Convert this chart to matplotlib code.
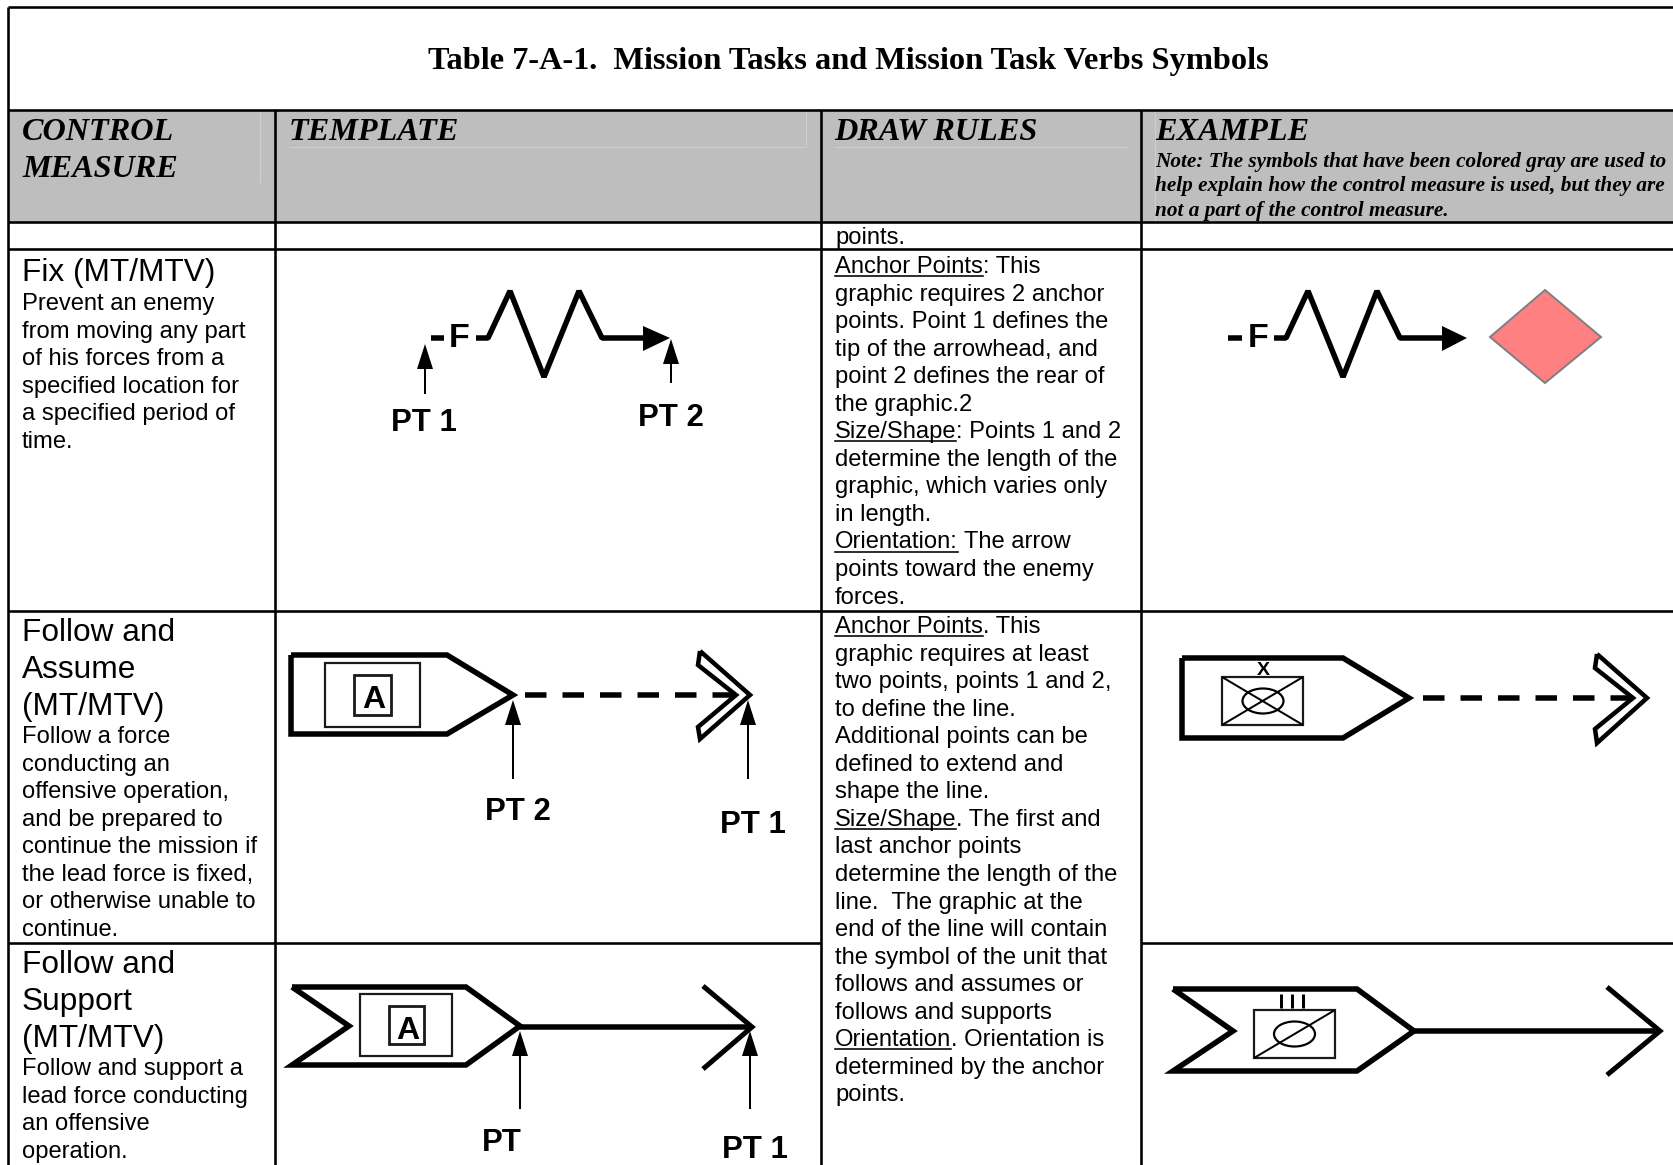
import matplotlib
matplotlib.use("Agg")
import matplotlib.pyplot as plt
from matplotlib.patches import Polygon, Ellipse, Rectangle

plt.rcParams['lines.scale_dashes'] = False

W, H = 1674, 1165

title = "Table 7-A-1.  Mission Tasks and Mission Task Verbs Symbols"
headers = ["CONTROL\nMEASURE", "TEMPLATE", "DRAW RULES", "EXAMPLE"]
note_lines = ["Note: The symbols that have been colored gray are used to",
              "help explain how the control measure is used, but they are",
              "not a part of the control measure."]

fix_head = ["Fix (MT/MTV)"]
fix_body = ["Prevent an enemy", "from moving any part", "of his forces from a",
            "specified location for", "a specified period of", "time."]
assume_head = ["Follow and", "Assume", "(MT/MTV)"]
assume_body = ["Follow a force", "conducting an", "offensive operation,",
               "and be prepared to", "continue the mission if",
               "the lead force is fixed,", "or otherwise unable to", "continue."]
support_head = ["Follow and", "Support", "(MT/MTV)"]
support_body = ["Follow and support a", "lead force conducting", "an offensive", "operation."]

# (underlined part, rest of the line)
fix_rules = [("Anchor Points", ": This"), ("", "graphic requires 2 anchor"),
             ("", "points. Point 1 defines the"), ("", "tip of the arrowhead, and"),
             ("", "point 2 defines the rear of"), ("", "the graphic.2"),
             ("Size/Shape", ": Points 1 and 2"), ("", "determine the length of the"),
             ("", "graphic, which varies only"), ("", "in length."),
             ("Orientation:", " The arrow"), ("", "points toward the enemy"), ("", "forces.")]
follow_rules = [("Anchor Points", ". This"), ("", "graphic requires at least"),
                ("", "two points, points 1 and 2,"), ("", "to define the line."),
                ("", "Additional points can be"), ("", "defined to extend and"),
                ("", "shape the line."), ("Size/Shape", ". The first and"),
                ("", "last anchor points"), ("", "determine the length of the"),
                ("", "line.  The graphic at the"), ("", "end of the line will contain"),
                ("", "the symbol of the unit that"), ("", "follows and assumes or"),
                ("", "follows and supports"), ("Orientation", ". Orientation is"),
                ("", "determined by the anchor"), ("", "points.")]

# symbol outlines in pixels
fix_line_t = [(476, 338), (488, 338), (510, 291), (544, 377), (579, 291), (602, 338), (646, 338)]
fix_head_t = [(643, 326), (670, 338), (643, 351)]
fix_line_e = [(1274, 338), (1286, 338), (1308, 291), (1343, 377), (1377, 291), (1400, 338), (1444, 338)]
fix_head_e = [(1442, 326), (1467, 338), (1442, 351)]
diamond = [(1490, 337), (1545, 290), (1601, 337), (1545, 383)]

assume_t = [(291, 655), (447, 655), (513, 695), (447, 734), (291, 734)]
assume_e = [(1182, 658), (1343, 658), (1409, 698), (1343, 738), (1182, 738)]
support_t = [(292, 987), (466, 987), (520, 1026), (466, 1065), (292, 1065), (349, 1026)]
support_e = [(1173, 989), (1357, 989), (1414, 1031), (1357, 1071), (1173, 1071), (1233, 1031)]

chevron_t_out = [(700, 651), (750, 695), (700, 739)]
chevron_t_in = [(698, 665), (736, 695), (698, 727)]
chevron_e_out = [(1597, 654), (1647, 698), (1597, 743)]
chevron_e_in = [(1595, 668), (1633, 698), (1595, 729)]

arrow_t = [(703, 986), (752, 1027), (703, 1069)]
arrow_e = [(1607, 987), (1660, 1031), (1607, 1075)]

# x, tail y, tip y for the small pointer arrows
pointers = [(425, 393, 344), (671, 382, 339), (513, 778, 700), (748, 778, 700),
            (520, 1108, 1031), (750, 1108, 1031)]
pt_labels = [("PT 1", 424, 420), ("PT 2", 671, 415), ("PT 2", 518, 809), ("PT 1", 753, 822),
             ("PT", 502, 1140), ("PT 1", 755, 1147)]


def px(v):
    return v * 0.72


fig = plt.figure(figsize=(W / 100, H / 100), dpi=100)
ax = fig.add_axes([0, 0, 1, 1])
ax.set_xlim(0, W)
ax.set_ylim(H, 0)
ax.axis('off')

SANS = 'Liberation Sans'
SERIF = 'Liberation Serif'
BODY = 17.15


def line(pts, lw=5.5, **kw):
    xs, ys = zip(*pts)
    kw.setdefault('solid_joinstyle', 'miter')
    kw.setdefault('solid_capstyle', 'butt')
    ax.plot(xs, ys, color=kw.pop('color', 'black'), lw=px(lw), **kw)


def block(lines, x, y, size, step):
    for i, s in enumerate(lines):
        ax.text(x, y + i * step, s, fontsize=size, family=SANS, va='baseline', ha='left')


def rules(lines, x, y, size, step):
    rend = fig.canvas.get_renderer()
    for i, (under, rest) in enumerate(lines):
        yy = y + i * step
        xx = x
        if under:
            t = ax.text(x, yy, under, fontsize=size, family=SANS, va='baseline', ha='left')
            bb = t.get_window_extent(rend)
            xx = bb.x1
            ax.plot([x, xx], [yy + 3, yy + 3], color='black', lw=px(1.6))
        if rest.startswith(' '):
            xx += 6
        ax.text(xx, yy, rest.strip(), fontsize=size, family=SANS, va='baseline', ha='left')


def pointer(x, tail, tip):
    ax.plot([x, x], [tail, tip + 20], color='black', lw=px(2))
    ax.add_patch(Polygon([(x - 8, tip + 25), (x, tip), (x + 8, tip + 25)], closed=True,
                         fc='black', ec='none'))


def symbol_box(x0, x1, y0, y1, lw=2.2):
    ax.add_patch(Rectangle((x0, y0), x1 - x0, y1 - y0, fc='none', ec='#1a1a1a', lw=px(lw)))


# header band and the faint lines in it
ax.add_patch(Rectangle((8, 110), W - 8, 112, fc='#BEBEBE', ec='none'))
for seg in [[(260, 112), (260, 183)], [(289, 147), (806, 147)], [(806, 112), (806, 147)],
            [(835, 147), (1127, 147)], [(1155, 112), (1155, 222)]]:
    line(seg, lw=1, color='#CFCFCF')

# table grid
grid = [[(8, 7), (W, 7)], [(8, 110), (W, 110)], [(8, 222), (W, 222)], [(8, 249), (W, 249)],
        [(8, 611), (W, 611)], [(8, 943), (821, 943)], [(1141, 943), (W, 943)],
        [(8, 7), (8, H)], [(275, 110), (275, H)], [(821, 110), (821, H)], [(1141, 110), (1141, H)]]
for seg in grid:
    line(seg, lw=2.6)

ax.text(848, 69, title, fontsize=23.35, family=SERIF, weight='bold', ha='center', va='baseline')
hx = [22, 289, 834, 1155]
for x, s in zip(hx, headers):
    for i, part in enumerate(s.split('\n')):
        ax.text(x, 140 + i * 37, part, fontsize=23.2, family=SERIF, weight='bold', style='italic',
                va='baseline', ha='left')
for i, s in enumerate(note_lines):
    ax.text(1155, 167 + i * 24.5, s, fontsize=15.27, family=SERIF, weight='bold', style='italic',
            va='baseline', ha='left')

# first column
block(fix_head, 22, 281, 22.8, 37)
block(fix_body, 22, 310, BODY, 27.55)
block(assume_head, 22, 641, 22.8, 37)
block(assume_body, 22, 743, BODY, 27.55)
block(support_head, 22, 973, 22.8, 37)
block(support_body, 22, 1075, BODY, 27.55)

# draw rules column
ax.text(835, 244, "points.", fontsize=BODY, family=SANS, va='baseline', ha='left')
rules(fix_rules, 835, 273, BODY, 27.55)
rules(follow_rules, 835, 633, BODY, 27.55)

# Fix symbols
for dash, fx, pts, head in [((431, 444), 459, fix_line_t, fix_head_t),
                            ((1228, 1242), 1258, fix_line_e, fix_head_e)]:
    line([(dash[0], 338), (dash[1], 338)], lw=5.5)
    ax.text(fx, 347, "F", fontsize=24.5, family=SANS, weight='bold', ha='center', va='baseline')
    line(pts, lw=5.5, solid_joinstyle='bevel')
    ax.add_patch(Polygon(head, closed=True, fc='black', ec='none'))
ax.add_patch(Polygon(diamond, closed=True, fc='#FF8080', ec='#808080', lw=px(2)))

# Follow and Assume symbols
line(assume_t + assume_t[:1], lw=5.5)
line(assume_e + assume_e[:1], lw=5.5)
symbol_box(325, 420, 663, 727)
symbol_box(354, 391, 675, 715, lw=2.8)
ax.text(373.5, 708, "A", fontsize=23, family=SANS, weight='bold', ha='center', va='baseline')
for y, x0, x1 in [(695, 525, 734), (698, 1423, 1633)]:
    line([(x0, y), (x1, y)], lw=5.5, dashes=(px(21.5), px(16)), dash_capstyle='butt')
for a, b in [(chevron_t_out, chevron_t_in), (chevron_e_out, chevron_e_in)]:
    line(a + b[::-1] + a[:1], lw=4.5)

symbol_box(1222, 1303, 677, 725)
line([(1222, 677), (1303, 725)], lw=2)
line([(1222, 725), (1303, 677)], lw=2)
ax.add_patch(Ellipse((1263, 701), 41, 25, fc='none', ec='black', lw=px(2.2)))
ax.text(1263, 675, "X", fontsize=14, family=SANS, weight='bold', ha='center', va='baseline')

# Follow and Support symbols
line(support_t + support_t[:1], lw=5.5)
line(support_e + support_e[:1], lw=5.5)
symbol_box(360, 452, 994, 1056)
symbol_box(389, 424, 1006, 1044, lw=2.8)
ax.text(407.5, 1039, "A", fontsize=23, family=SANS, weight='bold', ha='center', va='baseline')
line([(520, 1027), (750, 1027)], lw=5.5)
line(arrow_t, lw=5)
line([(1414, 1031), (1658, 1031)], lw=5.5)
line(arrow_e, lw=5)
symbol_box(1254, 1335, 1010, 1058)
line([(1254, 1058), (1335, 1010)], lw=2)
ax.add_patch(Ellipse((1294.5, 1034), 41, 25, fc='none', ec='black', lw=px(2.2)))
for x in [1281.5, 1292, 1303]:
    line([(x, 994), (x, 1008)], lw=3)

for x, tail, tip in pointers:
    pointer(x, tail, tip)
for s, x, y in pt_labels:
    ax.text(x, y + 11, s, fontsize=22.4, family=SANS, weight='bold', ha='center', va='baseline')

fig.savefig("out.png", dpi=100)
